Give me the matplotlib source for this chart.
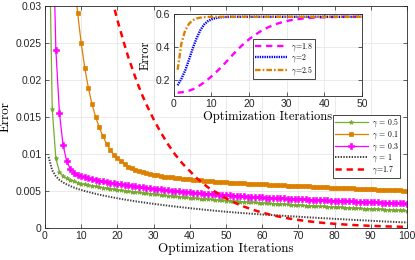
import matplotlib
matplotlib.use("Agg")
import matplotlib.pyplot as plt
import numpy as np

plt.rcParams['mathtext.fontset'] = 'cm'
plt.rcParams['lines.scale_dashes'] = False

# ---------------- data ----------------
iters_main = list(range(1, 101))

err_g05 = [0.045, 0.0161, 0.0094, 0.0076, 0.0070, 0.0067, 0.0065, 0.0063, 0.00615, 0.0060,
           0.00589, 0.00579, 0.0057, 0.00562, 0.00554, 0.00546, 0.00539, 0.00532, 0.00525, 0.00518,
           0.00511, 0.00505, 0.00499, 0.00493, 0.00487, 0.00481, 0.00475, 0.0047, 0.00464, 0.00459,
           0.00454, 0.00449, 0.00444, 0.00439, 0.00434, 0.00429, 0.00424, 0.0042, 0.00415, 0.00411,
           0.00406, 0.00402, 0.00398, 0.00394, 0.0039, 0.00386, 0.00382, 0.00378, 0.00374, 0.0037,
           0.00367, 0.00364, 0.0036, 0.00357, 0.00354, 0.00351, 0.00348, 0.00345, 0.00342, 0.00339,
           0.00336, 0.00333, 0.0033, 0.00327, 0.00324, 0.00321, 0.00318, 0.00315, 0.00313, 0.0031,
           0.00307, 0.00304, 0.00302, 0.00299, 0.00296, 0.00294, 0.00291, 0.00288, 0.00286, 0.00283,
           0.00281, 0.00278, 0.00276, 0.00273, 0.00271, 0.00268, 0.00266, 0.00263, 0.00261, 0.00258,
           0.00256, 0.00254, 0.00251, 0.00249, 0.00247, 0.00244, 0.00242, 0.0024, 0.00237, 0.00235]

err_g01 = [0.20, 0.14, 0.10, 0.078, 0.062, 0.050, 0.041, 0.0345, 0.0291, 0.0250,
           0.0216, 0.0189, 0.0167, 0.0150, 0.0136, 0.0124, 0.0114, 0.0106, 0.0099, 0.0094,
           0.0090, 0.0086, 0.0083, 0.0081, 0.0079, 0.0077, 0.0076, 0.0074, 0.0073, 0.0072,
           0.0071, 0.0070, 0.00695, 0.0069, 0.00683, 0.00677, 0.00671, 0.00666, 0.00661, 0.00656,
           0.00652, 0.00648, 0.00644, 0.0064, 0.00636, 0.00632, 0.00628, 0.00625, 0.00621, 0.00618,
           0.00615, 0.00612, 0.00609, 0.00607, 0.00604, 0.00601, 0.00599, 0.00596, 0.00594, 0.00591,
           0.00589, 0.00586, 0.00584, 0.00581, 0.00579, 0.00577, 0.00574, 0.00572, 0.0057, 0.00567,
           0.00565, 0.00563, 0.00561, 0.00558, 0.00556, 0.00554, 0.00552, 0.0055, 0.00547, 0.00545,
           0.00543, 0.00541, 0.00539, 0.00537, 0.00535, 0.00532, 0.0053, 0.00528, 0.00526, 0.00524,
           0.00522, 0.0052, 0.00518, 0.00516, 0.00514, 0.00512, 0.0051, 0.00508, 0.00506, 0.00504]

err_g03 = [0.09, 0.045, 0.0241, 0.0155, 0.0112, 0.0090, 0.0080, 0.0075, 0.0072, 0.0070,
           0.00686, 0.00673, 0.00661, 0.0065, 0.0064, 0.00631, 0.00622, 0.00614, 0.00606, 0.00598,
           0.00591, 0.00584, 0.00577, 0.0057, 0.00563, 0.00557, 0.00551, 0.00545, 0.00539, 0.00533,
           0.00527, 0.00522, 0.00516, 0.00511, 0.00506, 0.00501, 0.00496, 0.00491, 0.00486, 0.00482,
           0.00477, 0.00473, 0.00469, 0.00465, 0.00461, 0.00457, 0.00453, 0.0045, 0.00446, 0.00443,
           0.0044, 0.00437, 0.00434, 0.00431, 0.00428, 0.00425, 0.00422, 0.0042, 0.00417, 0.00414,
           0.00412, 0.00409, 0.00407, 0.00404, 0.00402, 0.00399, 0.00397, 0.00395, 0.00392, 0.0039,
           0.00388, 0.00386, 0.00383, 0.00381, 0.00379, 0.00377, 0.00375, 0.00373, 0.00371, 0.00369,
           0.00367, 0.00365, 0.00363, 0.00361, 0.00359, 0.00357, 0.00355, 0.00353, 0.00351, 0.00349,
           0.00347, 0.00345, 0.00344, 0.00342, 0.0034, 0.00338, 0.00336, 0.00335, 0.00333, 0.00331]

err_g1 = [0.0096, 0.0078, 0.0070, 0.0065, 0.00615, 0.0059, 0.00567, 0.00547, 0.0053, 0.00514,
          0.005, 0.00487, 0.00474, 0.00462, 0.00451, 0.0044, 0.0043, 0.0042, 0.00411, 0.00402,
          0.00393, 0.00385, 0.00377, 0.00369, 0.00361, 0.00354, 0.00347, 0.0034, 0.00333, 0.00327,
          0.0032, 0.00314, 0.00308, 0.00302, 0.00296, 0.0029, 0.00285, 0.00279, 0.00274, 0.00268,
          0.00263, 0.00258, 0.00253, 0.00248, 0.00243, 0.00238, 0.00233, 0.00229, 0.00224, 0.0022,
          0.00216, 0.00212, 0.00208, 0.00204, 0.002, 0.00197, 0.00193, 0.0019, 0.00186, 0.00183,
          0.0018, 0.00177, 0.00174, 0.00171, 0.00168, 0.00165, 0.00162, 0.00159, 0.00156, 0.00153,
          0.0015, 0.00147, 0.00144, 0.00141, 0.00138, 0.00135, 0.00132, 0.0013, 0.00127, 0.00124,
          0.00121, 0.00119, 0.00116, 0.00113, 0.00111, 0.00108, 0.00106, 0.00103, 0.00101, 0.00098,
          0.00096, 0.00093, 0.00091, 0.00088, 0.00086, 0.00084, 0.00081, 0.00079, 0.00077, 0.00075]

err_g17 = [0.0967, 0.0906, 0.0849, 0.0796, 0.0746, 0.0699, 0.0655, 0.0614, 0.0575, 0.0539,
           0.0505, 0.0473, 0.0444, 0.0416, 0.0390, 0.0365, 0.0342, 0.0320, 0.0300, 0.0281,
           0.0264, 0.0247, 0.0231, 0.0217, 0.0203, 0.0190, 0.0178, 0.0167, 0.0157, 0.0147,
           0.0138, 0.0129, 0.0121, 0.0113, 0.0106, 0.0099, 0.0093, 0.0087, 0.0082, 0.0077,
           0.0072, 0.0067, 0.0063, 0.0059, 0.0055, 0.0052, 0.0049, 0.0046, 0.0043, 0.0040,
           0.00375, 0.00351, 0.00329, 0.00308, 0.00289, 0.00271, 0.00254, 0.00238, 0.00223, 0.00209,
           0.00196, 0.00183, 0.00172, 0.00161, 0.00151, 0.00141, 0.00132, 0.00124, 0.00116, 0.00109,
           0.00102, 0.00096, 0.0009, 0.00084, 0.00079, 0.00074, 0.00069, 0.00065, 0.00061, 0.00057,
           0.00053, 0.0005, 0.00047, 0.00044, 0.00041, 0.00038, 0.00036, 0.00034, 0.00032, 0.0003,
           0.00028, 0.00026, 0.00024, 0.00023, 0.00021, 0.0002, 0.00019, 0.00018, 0.00016, 0.00015]

iters_inset = list(range(1, 51))

err_g18 = [0.12, 0.122, 0.126, 0.132, 0.14, 0.152, 0.166, 0.182, 0.2, 0.219,
           0.24, 0.262, 0.285, 0.31, 0.335, 0.36, 0.384, 0.406, 0.427, 0.446,
           0.463, 0.479, 0.494, 0.507, 0.518, 0.528, 0.537, 0.545, 0.551, 0.557,
           0.562, 0.566, 0.569, 0.572, 0.574, 0.576, 0.578, 0.579, 0.58, 0.581,
           0.581, 0.582, 0.582, 0.582, 0.583, 0.583, 0.583, 0.583, 0.583, 0.583]

err_g2 = [0.165, 0.205, 0.255, 0.32, 0.39, 0.45, 0.50, 0.535, 0.556, 0.568,
          0.575, 0.579, 0.581, 0.582, 0.583, 0.583, 0.583, 0.583, 0.583, 0.583,
          0.583, 0.583, 0.583, 0.583, 0.583, 0.583, 0.583, 0.583, 0.583, 0.583,
          0.583, 0.583, 0.583, 0.583, 0.583, 0.583, 0.583, 0.583, 0.583, 0.583,
          0.583, 0.583, 0.583, 0.583, 0.583, 0.583, 0.583, 0.583, 0.583, 0.583]

err_g25 = [0.26, 0.42, 0.50, 0.54, 0.562, 0.573, 0.578, 0.581, 0.582, 0.583,
           0.583, 0.583, 0.583, 0.583, 0.583, 0.583, 0.583, 0.583, 0.583, 0.583,
           0.583, 0.583, 0.583, 0.583, 0.583, 0.583, 0.583, 0.583, 0.583, 0.583,
           0.583, 0.583, 0.583, 0.583, 0.583, 0.583, 0.583, 0.583, 0.583, 0.583,
           0.583, 0.583, 0.583, 0.583, 0.583, 0.583, 0.583, 0.583, 0.583, 0.583]

main_xticks = [0, 10, 20, 30, 40, 50, 60, 70, 80, 90, 100]
main_yticks = [0, 0.005, 0.01, 0.015, 0.02, 0.025, 0.03]
main_yticklabels = ["0", "0.005", "0.01", "0.015", "0.02", "0.025", "0.03"]
inset_xticks = [0, 10, 20, 30, 40, 50]
inset_yticks = [0.2, 0.4, 0.6]
inset_yticklabels = ["0.2", "0.4", "0.6"]

labels_main = [r'$\gamma$ = 0.5', r'$\gamma$ = 0.1', r'$\gamma$ = 0.3', r'$\gamma$ = 1', r'$\gamma$=1.7']
labels_inset = [r'$\gamma$=1.8', r'$\gamma$=2', r'$\gamma$=2.5']

# ---------------- style ----------------
AX_COL = '#262626'
GRID_COL = '#e6e6e6'
TICK_FONT = 'Liberation Sans'
LABEL_FONT = 'cmr10'

GREEN = '#77AC30'
ORANGE = '#DD8000'
MAGENTA = '#FF00FF'
GREY = '#404040'
RED = '#FF0000'
BLUE = '#0000FF'


def style_axes(ax, fs):
    ax.tick_params(direction='in', length=3, width=0.5, colors=AX_COL,
                   labelsize=fs, top=True, right=True, pad=2.5)
    for lab in ax.get_xticklabels() + ax.get_yticklabels():
        lab.set_fontfamily(TICK_FONT)
    for s in ax.spines.values():
        s.set_color(AX_COL)
        s.set_linewidth(0.6)
    ax.grid(True, color=GRID_COL, linewidth=0.6)
    ax.set_axisbelow(True)


fig = plt.figure(figsize=(4.15, 2.6), dpi=100)

# ---------------- main axes ----------------
ax = fig.add_axes([0.1084, 0.123, 0.8723, 0.854])
ax.plot(iters_main, err_g05, color=GREEN, lw=0.9, marker='*', ms=3.2, mew=0.6,
        label=labels_main[0])
ax.plot(iters_main, err_g01, color=ORANGE, lw=0.9, marker='s', ms=3.5, mew=0.5,
        label=labels_main[1])
ax.plot(iters_main, err_g03, color=MAGENTA, lw=0.9, marker='P', ms=3.8, mew=0.4,
        label=labels_main[2])
ax.plot(iters_main, err_g1, color=GREY, lw=1.4, dashes=(1.0, 1.0),
        label=labels_main[3])
ax.plot(iters_main, err_g17, color=RED, lw=1.8, dashes=(4.5, 3.5),
        label=labels_main[4])

ax.set_xlim(0, 100)
ax.set_ylim(0, 0.03)
ax.set_xticks(main_xticks)
ax.set_yticks(main_yticks)
ax.set_yticklabels(main_yticklabels)
style_axes(ax, 7.5)
ax.set_xlabel('Optimization Iterations', fontfamily=LABEL_FONT, fontsize=9.5,
              labelpad=1, color='black')
ax.set_ylabel('Error', fontfamily=LABEL_FONT, fontsize=9.5, labelpad=3, color='black')

leg = ax.legend(loc='lower left', bbox_to_anchor=(0.796, 0.225), borderaxespad=0,
                prop={'family': LABEL_FONT, 'size': 5.6},
                fancybox=False, edgecolor=AX_COL, framealpha=1,
                handlelength=4.2, handletextpad=0.5, labelspacing=0.0,
                borderpad=0.25, markerscale=1.0, handleheight=0.6)
leg.get_frame().set_linewidth(0.6)

# ---------------- inset axes ----------------
axi = fig.add_axes([0.419, 0.631, 0.453, 0.315])
axi.plot(iters_inset, err_g18, color=MAGENTA, lw=1.7, dashes=(4.5, 3.5), label=labels_inset[0])
axi.plot(iters_inset, err_g2, color=BLUE, lw=1.7, dashes=(1.0, 0.7), label=labels_inset[1])
axi.plot(iters_inset, err_g25, color=ORANGE, lw=1.7, dashes=(4.0, 1.5, 1.2, 1.5), label=labels_inset[2])
axi.set_xlim(0, 50)
axi.set_ylim(0.1, 0.6)
axi.set_xticks(inset_xticks)
axi.set_yticks(inset_yticks)
axi.set_yticklabels(inset_yticklabels)
style_axes(axi, 7.5)
axi.set_xlabel('Optimization Iterations', fontfamily=LABEL_FONT, fontsize=9,
               labelpad=1, color='black')
axi.set_ylabel('Error', fontfamily=LABEL_FONT, fontsize=9, labelpad=3, color='black')

legi = axi.legend(loc='lower left', bbox_to_anchor=(0.42, 0.207), borderaxespad=0,
                  prop={'family': LABEL_FONT, 'size': 5.6},
                  fancybox=False, edgecolor=AX_COL, framealpha=1,
                  handlelength=4.2, handletextpad=0.5, labelspacing=0.0,
                  borderpad=0.25, handleheight=0.6)
legi.get_frame().set_linewidth(0.6)

fig.savefig('out.png', dpi=100)
